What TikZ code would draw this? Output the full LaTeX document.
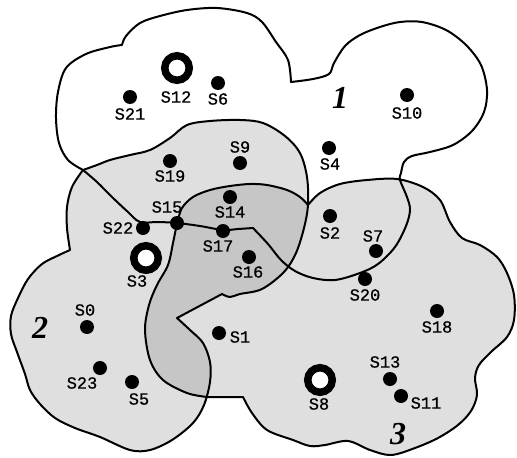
\documentclass[tikz,border=0pt]{standalone}
\usepackage{fontspec}
\newfontfamily\labfont[FakeBold=0.7]{Liberation Mono}
\newfontfamily\numfont{Liberation Serif}
\definecolor{lightg}{RGB}{223,223,223}
\definecolor{darkg}{RGB}{198,198,198}
\tikzset{
 edge/.style={draw=black, line width=2pt, line join=round, line cap=round},
 dot/.style={circle, fill=black, inner sep=0pt, minimum size=14pt},
 ring/.style={circle, draw=black, line width=7.5pt, fill=white, inner sep=0pt, minimum size=24.5pt},
 lab/.style={font=\labfont\fontsize{17}{17}\selectfont, inner sep=0pt},
 num/.style={font=\numfont\fontsize{32}{32}\selectfont\bfseries\itshape, inner sep=0pt},
}
\newcommand\regtwopath{plot[smooth,tension=0.55] coordinates {(83,170) (97,165) (110,160) (130,155) (150,150) (170,138) (187,125) (210,121) (240,120) (263,123) (285,136) (300,153) (307,177) (308,205) (304,228) (296,253) (284,272) (262,289) (240,294) (230,297) (222,294)}
 -- (177,318)
 -- plot[smooth,tension=0.55] coordinates {(177,318) (190,330) (203,343) (210,362) (210,382) (204,405) (193,423) (172,440) (150,450) (130,450) (100,437) (75,428) (55,418) (40,404) (30,390) (25,374) (17,352) (11,334) (11,316) (18,298) (28,279) (42,264) (57,256) (70,250)}
 -- plot[smooth,tension=0.55] coordinates {(70,250) (67,228) (67,207) (72,187) (83,170)} -- cycle}
\newcommand\regthreepath{plot[smooth,tension=0.55] coordinates {(177,223) (182,208) (193,197) (210,190) (230,186) (250,184) (267,185) (287,190) (300,197) (308,205)}
 -- plot[smooth,tension=0.55] coordinates {(308,205) (320,193) (340,184) (367,180) (397,179) (423,187) (440,200) (450,222) (462,238) (480,245) (497,257) (507,273) (514,295) (514,320) (507,337) (491,352) (479,365) (475,378) (477,395) (471,411) (458,425) (438,438) (415,448) (391,455) (370,450) (348,441) (325,445) (310,446) (293,440) (267,430) (252,413) (243,397)}
 -- (207,397)
 -- plot[smooth,tension=0.55] coordinates {(207,397) (187,393) (163,380) (150,360) (145,330) (149,305) (157,285) (168,265) (173,243) (177,223)} -- cycle}
\newcommand\regonepath{plot[smooth,tension=0.55] coordinates {(83,170) (68,160) (59,143) (56,118) (58,92) (66,68) (86,54) (110,47) (122,45)}
 -- plot[smooth,tension=0.55] coordinates {(122,45) (126,36) (140,23) (160,16) (187,10) (217,8) (247,13) (262,22) (276,42) (288,60) (291,82)}
 -- plot[smooth,tension=0.55] coordinates {(291,82) (313,79) (329,74) (334,63) (345,46) (360,35) (380,27) (400,22) (422,22) (446,30) (466,45) (481,65) (487,90) (484,112) (472,131) (453,145) (430,152) (412,156) (404,162) (401,173) (400,180) (407,197) (410,210) (406,226) (395,247) (378,264) (360,273) (335,280) (313,278) (295,271) (281,260) (268,244) (253,228)}
 -- plot[smooth,tension=0.55] coordinates {(253,228) (238,229) (223,230) (200,226) (177,223) (158,222) (140,222) (128,212) (112,197) (97,182) (83,170)} -- cycle}
\begin{document}
\begin{tikzpicture}[x=1pt,y=-1pt]
\useasboundingbox (0,0) rectangle (517,458);
\fill[white] (0,0) rectangle (517,458);
% fills
\fill[lightg] \regtwopath;
\fill[lightg] \regthreepath;
\begin{scope}
 \clip \regtwopath;
 \fill[darkg] \regthreepath;
\end{scope}
% outlines
\path[edge] \regtwopath;
\path[edge] \regthreepath;
\path[edge] \regonepath;
% sensors
\node[ring] (s12) at (177,68) {};
\node[ring] (s3) at (146,258) {};
\node[ring] (s8) at (320,380) {};
\node[dot] (s6) at (218,83) {};
\node[dot] (s21) at (130,97) {};
\node[dot] (s10) at (407,95) {};
\node[dot] (s9) at (240,163) {};
\node[dot] (s19) at (170,161) {};
\node[dot] (s4) at (329,148) {};
\node[dot] (s14) at (230,197) {};
\node[dot] (s15) at (177,223) {};
\node[dot] (s22) at (143,228) {};
\node[dot] (s17) at (223,231) {};
\node[dot] (s2) at (330,216) {};
\node[dot] (s7) at (376,251) {};
\node[dot] (s16) at (249,257) {};
\node[dot] (s20) at (365,279) {};
\node[dot] (s0) at (87,327) {};
\node[dot] (s1) at (219,333) {};
\node[dot] (s18) at (437,311) {};
\node[dot] (s23) at (100,368) {};
\node[dot] (s5) at (132,382) {};
\node[dot] (s13) at (390,379) {};
\node[dot] (s11) at (401,396) {};
% labels
\node[lab] (l12) at (176,97) {S12};
\node[lab] (l6) at (218,99) {S6};
\node[lab] (l21) at (130,114) {S21};
\node[lab] (l10) at (407,113) {S10};
\node[lab] (l9) at (240,147) {S9};
\node[lab] (l19) at (170,176) {S19};
\node[lab] (l4) at (330,164) {S4};
\node[lab] (l14) at (230,212) {S14};
\node[lab] (l15) at (167,207) {S15};
\node[lab] (l22) at (118,228) {S22};
\node[lab] (l17) at (218,246) {S17};
\node[lab] (l2) at (330,233) {S2};
\node[lab] (l7) at (373,236) {S7};
\node[lab] (l3) at (137,281) {S3};
\node[lab] (l16) at (248,272) {S16};
\node[lab] (l20) at (365,295) {S20};
\node[lab] (l0) at (85,310) {S0};
\node[lab] (l1) at (240,337) {S1};
\node[lab] (l18) at (437,327) {S18};
\node[lab] (l23) at (82,383) {S23};
\node[lab] (l5) at (139,399) {S5};
\node[lab] (l13) at (385,362) {S13};
\node[lab] (l8) at (319,404) {S8};
\node[lab] (l11) at (426,403) {S11};
% region numbers
\node[num] (n1) at (340,98) {1};
\node[num] (n2) at (40,328) {2};
\node[num] (n3) at (398,434) {3};
\end{tikzpicture}
\end{document}
